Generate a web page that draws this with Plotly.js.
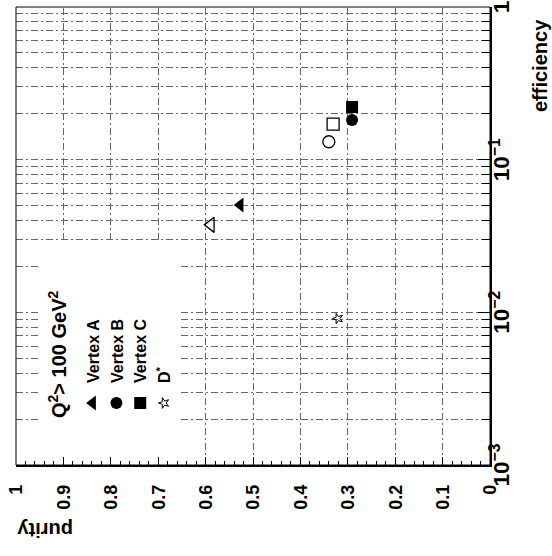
<!DOCTYPE html>
<html><head><meta charset="utf-8">
<script src="https://cdn.plot.ly/plotly-3.0.1.min.js"></script>
<style>
html,body{margin:0;padding:0;background:#fff;overflow:hidden;}
#wrap{width:552px;height:556px;position:relative;overflow:hidden;background:#fff;}
#chart{width:556px;height:552px;position:absolute;left:0;top:0;transform-origin:0 0;transform:translateY(556px) rotate(-90deg);}
</style></head><body><div id="wrap"><div id="chart"></div></div>
<script>
// Legend / series names
const seriesNames = ['Vertex A', 'Vertex B', 'Vertex C', 'D<sup>*</sup>'];
// Filled markers (legend series): efficiency and purity
const effVertexA = [0.0505];
const purVertexA = [0.527];
const effVertexB = [0.182];
const purVertexB = [0.291];
const effVertexC = [0.221];
const purVertexC = [0.291];
const effDstar = [0.0091];
const purDstar = [0.321];
// Open markers (no legend entry)
const effVertexAOpen = [0.0374];
const purVertexAOpen = [0.589];
const effVertexBOpen = [0.131];
const purVertexBOpen = [0.340];
const effVertexCOpen = [0.171];
const purVertexCOpen = [0.331];
// Axis labels
const xTitle = 'efficiency';
const yTitle = 'purity';
const legendTitle = 'Q<sup>2</sup>> 100 GeV<sup>2</sup>';

const FONT = 'Liberation Sans, Arial, Helvetica, sans-serif';
const gridDash = '7px,3px,2px,3px';
const gridColor = '#666';

const traces = [
  {x: effVertexA, y: purVertexA, name: seriesNames[0], type: 'scatter', mode: 'markers',
   marker: {symbol: 'triangle-up', size: 13, color: '#000'}},
  {x: effVertexB, y: purVertexB, name: seriesNames[1], type: 'scatter', mode: 'markers',
   marker: {symbol: 'circle', size: 12, color: '#000'}},
  {x: effVertexC, y: purVertexC, name: seriesNames[2], type: 'scatter', mode: 'markers',
   marker: {symbol: 'square', size: 12, color: '#000'}},
  {x: effDstar, y: purDstar, name: seriesNames[3], type: 'scatter', mode: 'markers',
   marker: {symbol: 'star-open', size: 8, color: '#000', line: {width: 1, color: '#000'}}},
  {x: effVertexAOpen, y: purVertexAOpen, showlegend: false, type: 'scatter', mode: 'markers',
   marker: {symbol: 'triangle-up-open', size: 13, color: '#000', line: {width: 1.3, color: '#000'}}},
  {x: effVertexBOpen, y: purVertexBOpen, showlegend: false, type: 'scatter', mode: 'markers',
   marker: {symbol: 'circle-open', size: 12, color: '#000', line: {width: 1.3, color: '#000'}}},
  {x: effVertexCOpen, y: purVertexCOpen, showlegend: false, type: 'scatter', mode: 'markers',
   marker: {symbol: 'square-open', size: 12, color: '#000', line: {width: 1.3, color: '#000'}}}
];

const layout = {
  width: 556, height: 552,
  margin: {l: 91, r: 7, t: 16, b: 62},
  paper_bgcolor: '#fff', plot_bgcolor: '#fff',
  font: {family: FONT, color: '#000'},
  showlegend: true,
  legend: {
    x: 0.0917, xanchor: 'left', y: 0.874, yanchor: 'top',
    bgcolor: 'rgba(0,0,0,0)', borderwidth: 0,
    font: {family: FONT, size: 16, weight: 700, color: '#000'},
    itemwidth: 30, tracegroupgap: 0
  },
  xaxis: {
    type: 'log', range: [-3, 0], dtick: 1,
    exponentformat: 'power', showexponent: 'all',
    ticks: 'inside', ticklen: 12, tickwidth: 1, tickcolor: '#000',
    showgrid: true, gridcolor: gridColor, gridwidth: 1, griddash: gridDash,
    minor: {dtick: 'D1', ticks: 'inside', ticklen: 8, tickwidth: 1, tickcolor: '#000',
            showgrid: true, gridcolor: gridColor, gridwidth: 1, griddash: gridDash},
    showline: true, linecolor: '#000', linewidth: 2, mirror: false, zeroline: false,
    tickfont: {family: FONT, size: 18, weight: 700, color: '#000'},
    ticklabelstandoff: -9
  },
  yaxis: {
    range: [0, 1], dtick: 0.1, tick0: 0,
    ticks: 'inside', ticklen: 8, tickwidth: 1, tickcolor: '#000',
    showgrid: true, gridcolor: gridColor, gridwidth: 1, griddash: gridDash,
    minor: {dtick: 0.02, ticks: 'inside', ticklen: 4, tickwidth: 1, tickcolor: '#000', showgrid: false},
    showline: true, linecolor: '#000', linewidth: 2, mirror: false, zeroline: false,
    tickfont: {family: FONT, size: 18, weight: 700, color: '#000'},
    ticklabelstandoff: 14
  },
  shapes: [
    {type: 'rect', xref: 'paper', yref: 'paper', x0: 0.021, x1: 0.489, y0: 0.658, y1: 0.949,
     fillcolor: '#fff', line: {width: 0}, layer: 'above'},
    {type: 'rect', xref: 'paper', yref: 'paper', x0: 0, x1: 1, y0: 0, y1: 1,
     fillcolor: 'rgba(0,0,0,0)', line: {width: 1, color: '#000'}, layer: 'above'}
  ],
  annotations: [
    {text: legendTitle, xref: 'paper', yref: 'paper', x: 0.098, y: 0.9135, xanchor: 'left', yanchor: 'middle',
     showarrow: false, font: {family: FONT, size: 20, weight: 700, color: '#000'}},
    {text: xTitle, xref: 'paper', yref: 'paper', x: 0.978, y: -0.105, xanchor: 'right', yanchor: 'middle',
     showarrow: false, font: {family: FONT, size: 20, weight: 700, color: '#000'}},
    {text: yTitle, xref: 'paper', yref: 'paper', x: -0.142, y: 1.002, xanchor: 'center', yanchor: 'top',
     textangle: -90, showarrow: false, font: {family: FONT, size: 20, weight: 700, color: '#000'}}
  ]
};

Plotly.newPlot('chart', traces, layout, {displayModeBar: false, staticPlot: true});
</script></body></html>
